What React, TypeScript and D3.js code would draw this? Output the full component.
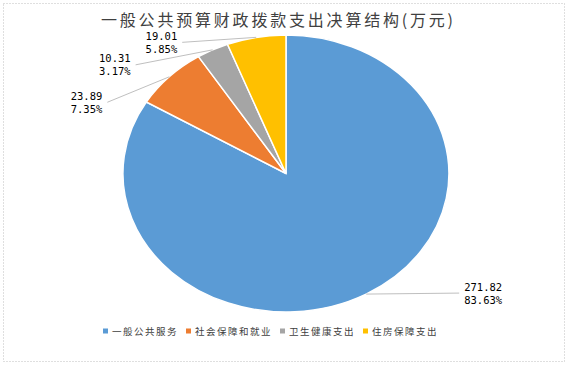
import React from 'react';
import * as d3 from 'd3';

const title = '一般公共预算财政拨款支出决算结构(万元)';
const categories = ['一般公共服务', '社会保障和就业', '卫生健康支出', '住房保障支出'];
const values = [271.82, 23.89, 10.31, 19.01];
const percents = ['83.63%', '7.35%', '3.17%', '5.85%'];
const colors = ['#5B9BD5', '#ED7D31', '#A5A5A5', '#FFC000'];

// leader-line offsets from the arc midpoint (layout, not data)
const labelOffsets: [number, number][] = [
  [93, -1],
  [-62, 25.5],
  [-77, 15],
  [-74, 5],
];

const W = 570;
const H = 366;
const cx = 286;
const cy = 173.5;
const rx = 163;
const ry = 138.5;

export default function App() {
  const pie = d3.pie<number>().sort(null).value((d) => d);
  const arcs = pie(values);
  const arcGen = d3.arc<d3.PieArcDatum<number>>().innerRadius(0).outerRadius(1);

  const legendPitch = 11;
  const markerSize = 5;
  let lx = 103;
  const legendItems = categories.map((c, i) => {
    const item = { x: lx, c, i };
    lx += markerSize + 4 + c.length * legendPitch + 8;
    return item;
  });

  return (
    <div style={{ position: 'absolute', left: 0, top: 0 }}>
      <svg width={W} height={H} style={{ display: 'block', background: '#fff' }}>
        <rect x={3.5} y={3.5} width={561} height={358} fill="#fff" stroke="#BFBFBF" strokeWidth={1} strokeDasharray="1 2" />
        <text x={101} y={26} fontFamily="'Noto Sans CJK SC'" fontSize={16} letterSpacing={2.8} fill="#404040">
          {title}
        </text>
        <g transform={`translate(${cx},${cy}) scale(${rx},${ry})`}>
          {arcs.map((a, i) => (
            <path key={i} d={arcGen(a) || ''} fill={colors[i]} stroke="#fff" strokeWidth={1.5} vectorEffect="non-scaling-stroke" />
          ))}
        </g>
        {arcs.map((a, i) => {
          const mid = (a.startAngle + a.endAngle) / 2;
          const ex = cx + rx * Math.sin(mid);
          const ey = cy - ry * Math.cos(mid);
          const [dx, dy] = labelOffsets[i];
          const tx = ex + dx;
          const ty = ey + dy;
          const right = dx > 0;
          const textX = right ? tx + 5 : tx - 5;
          return (
            <g key={i}>
              <line x1={ex} y1={ey} x2={tx} y2={ty} stroke="#BFBFBF" strokeWidth={1} />
              <text
                fontFamily="'DejaVu Sans Mono', monospace"
                fontSize={10.5}
                fill="#000"
                textAnchor={right ? 'start' : 'end'}
              >
                <tspan x={textX} y={ty - 2.5}>{values[i].toFixed(2)}</tspan>
                <tspan x={textX} y={ty + 10.5}>{percents[i]}</tspan>
              </text>
            </g>
          );
        })}
        {legendItems.map(({ x, c, i }) => (
          <g key={i}>
            <rect x={x} y={331 - markerSize / 2} width={markerSize} height={markerSize} fill={colors[i]} />
            <text x={x + markerSize + 4} y={334.5} fontFamily="'Noto Sans CJK SC'" fontSize={9.5} letterSpacing={1.5} fill="#404040">
              {c}
            </text>
          </g>
        ))}
      </svg>
    </div>
  );
}
